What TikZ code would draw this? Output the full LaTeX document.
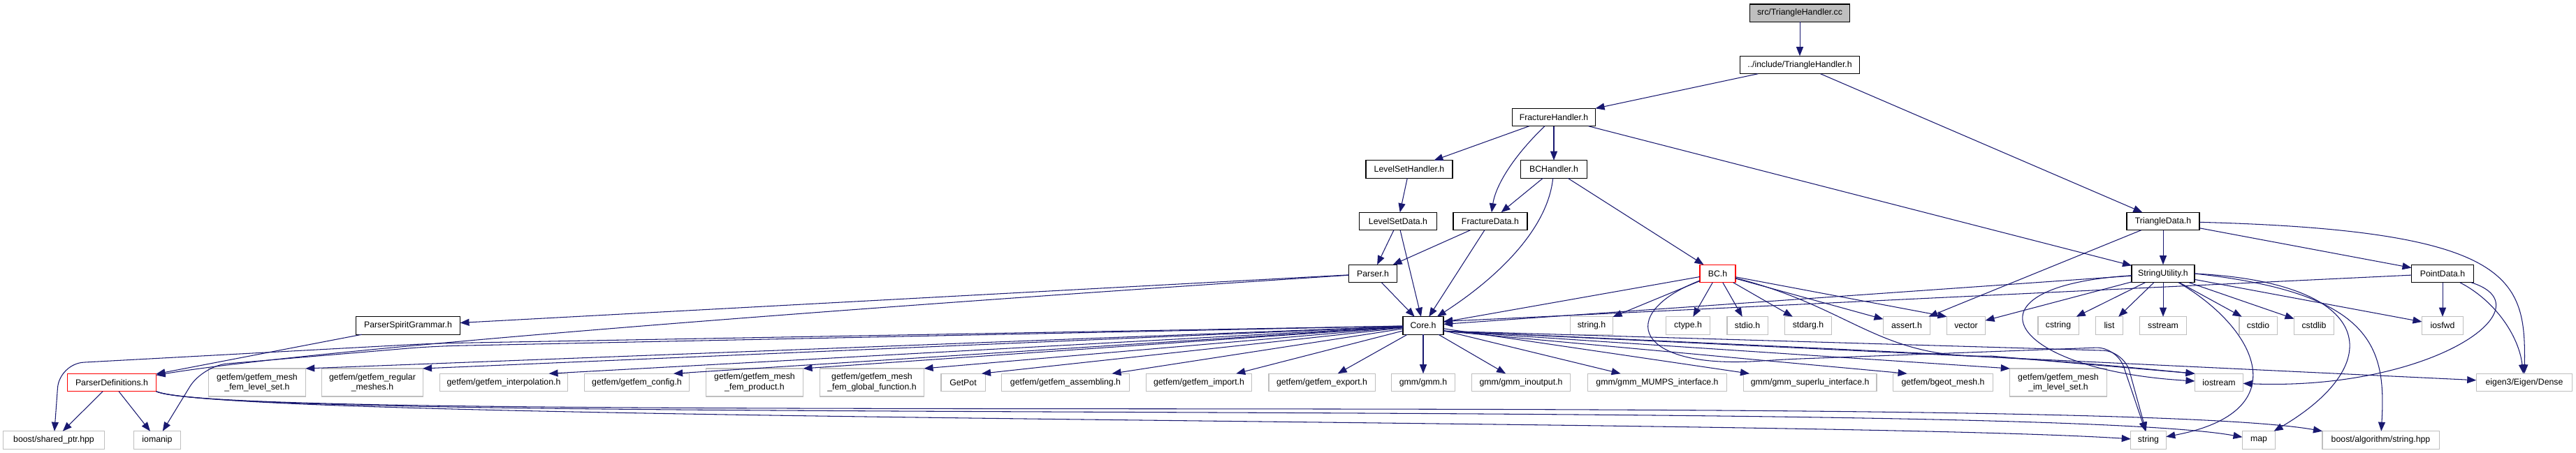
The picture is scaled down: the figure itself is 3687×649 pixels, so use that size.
\documentclass[tikz,border=0pt]{standalone}
\usepackage{fontspec}
\setmainfont{Liberation Sans}
\usetikzlibrary{arrows.meta}
\definecolor{depblue}{RGB}{25,25,112}
\definecolor{sysgray}{RGB}{191,191,191}
\definecolor{srcgray}{RGB}{191,191,191}
\tikzset{
  hdr/.style={draw=black, line width=0.4pt, fill=white, minimum height=0.255cm, inner sep=0pt, outer sep=0pt, align=center, font=\fontsize{3.5}{4.1}\selectfont},
  sys/.style={hdr, draw=sysgray, line width=0.3pt},
  trunc/.style={hdr, draw=red, line width=0.35pt},
  twoline/.style={minimum height=0.40cm},
  dep/.style={draw=depblue, line width=0.3pt, -{Triangle[length=1.3mm,width=1mm]}}
}
\begin{document}
\begin{tikzpicture}[x=0.01cm, y=-0.01cm]
	\useasboundingbox (0,0) rectangle (3687,649);
	
	\node[hdr, fill=srcgray, minimum width=1.43cm] (src) at (2576,18.7) {src/TriangleHandler.cc};
	\node[hdr, minimum width=1.71cm] (th) at (2576,93) {../include/TriangleHandler.h};
	\node[hdr, minimum width=1.19cm] (fh) at (2224,168) {FractureHandler.h};
	\node[hdr, minimum width=1.24cm] (lsh) at (2017,242.5) {LevelSetHandler.h};
	\node[hdr, minimum width=0.95cm] (bch) at (2224,242.5) {BCHandler.h};
	\node[hdr, minimum width=1.11cm] (lsd) at (2001,317) {LevelSetData.h};
	\node[hdr, minimum width=1.06cm] (fd) at (2133,317) {FractureData.h};
	\node[hdr, minimum width=1.04cm] (td) at (3096,317) {TriangleData.h};
	\node[hdr, minimum width=0.69cm] (parser) at (1965,392) {Parser.h};
	\node[trunc, minimum width=0.51cm] (bc) at (2458.5,392) {BC.h};
	\node[hdr, minimum width=0.90cm] (su) at (3096,392) {StringUtility.h};
	\node[hdr, minimum width=0.89cm] (pdat) at (3496,392) {PointData.h};
	
	\node[hdr, minimum width=1.49cm] (psg) at (584,466.5) {ParserSpiritGrammar.h};
	\node[hdr, minimum width=0.58cm] (core) at (2037,466.5) {Core.h};
	\node[sys, minimum width=0.61cm] (stringh) at (2278,466.5) {string.h};
	\node[sys, minimum width=0.63cm] (ctype) at (2416,466.5) {ctype.h};
	\node[sys, minimum width=0.58cm] (stdio) at (2501,466.5) {stdio.h};
	\node[sys, minimum width=0.67cm] (stdarg) at (2588,466.5) {stdarg.h};
	\node[sys, minimum width=0.67cm] (assert) at (2729,466.5) {assert.h};
	\node[sys, minimum width=0.55cm] (vector) at (2814,466.5) {vector};
	\node[sys, minimum width=0.58cm] (cstring) at (2946,466.5) {cstring};
	\node[sys, minimum width=0.39cm] (list) at (3019,466.5) {list};
	\node[sys, minimum width=0.67cm] (sstream) at (3096,466.5) {sstream};
	\node[sys, minimum width=0.54cm] (cstdio) at (3232,466.5) {cstdio};
	\node[sys, minimum width=0.57cm] (cstdlib) at (3312,466.5) {cstdlib};
	\node[sys, minimum width=0.59cm] (iosfwd) at (3496,466.5) {iosfwd};
	
	\node[trunc, minimum width=1.27cm] (pdef) at (160,548) {ParserDefinitions.h};
	\node[sys, twoline, minimum width=1.385cm] (mflset) at (368,548) {getfem/getfem\_mesh\\\_fem\_level\_set.h};
	\node[sys, twoline, minimum width=1.44cm] (regmesh) at (533,548) {getfem/getfem\_regular\\\_meshes.h};
	\node[sys, minimum width=1.83cm] (interp) at (721,548) {getfem/getfem\_interpolation.h};
	\node[sys, minimum width=1.49cm] (config) at (911.5,548) {getfem/getfem\_config.h};
	\node[sys, twoline, minimum width=1.39cm] (mfprod) at (1080,548) {getfem/getfem\_mesh\\\_fem\_product.h};
	\node[sys, twoline, minimum width=1.49cm] (mfglob) at (1248,548) {getfem/getfem\_mesh\\\_fem\_global\_function.h};
	\node[sys, minimum width=0.63cm] (getpot) at (1378.5,548) {GetPot};
	\node[sys, minimum width=1.83cm] (assem) at (1525,548) {getfem/getfem\_assembling.h};
	\node[sys, minimum width=1.505cm] (import) at (1716,548) {getfem/getfem\_import.h};
	\node[sys, minimum width=1.52cm] (export) at (1892,548) {getfem/getfem\_export.h};
	\node[sys, minimum width=0.905cm] (gmm) at (2037,548) {gmm/gmm.h};
	\node[sys, minimum width=1.41cm] (inout) at (2177,548) {gmm/gmm\_inoutput.h};
	\node[sys, minimum width=1.985cm] (mumps) at (2372,548) {gmm/gmm\_MUMPS\_interface.h};
	\node[sys, minimum width=1.906cm] (superlu) at (2590.6,548) {gmm/gmm\_superlu\_interface.h};
	\node[sys, minimum width=1.427cm] (bgeot) at (2781,548) {getfem/bgeot\_mesh.h};
	\node[sys, twoline, minimum width=1.384cm] (mimls) at (2946,548) {getfem/getfem\_mesh\\\_im\_level\_set.h};
	\node[sys, minimum width=0.69cm] (iostream) at (3176,548) {iostream};
	\node[sys, minimum width=1.375cm] (eigen) at (3613,548) {eigen3/Eigen/Dense};
	
	\node[sys, minimum width=1.45cm] (bsp) at (77,630.5) {boost/shared\_ptr.hpp};
	\node[sys, minimum width=0.67cm] (iomanip) at (225,630.5) {iomanip};
	\node[sys, minimum width=0.505cm] (string) at (3075,630.5) {string};
	\node[sys, minimum width=0.47cm] (map) at (3233,630.5) {map};
	\node[sys, minimum width=1.67cm] (balg) at (3407.5,630.5) {boost/algorithm/string.hpp};
	
	\draw[dep] (src) -- (th);
	\draw[dep] (th) -- (fh);
	\draw[dep] (th) -- (td);
	\draw[dep] (fh) -- (lsh);
	\draw[dep] (fh) .. controls (2160,230) and (2140,270) .. (fd);
	\draw[dep] (fh) -- (bch);
	\draw[dep] (fh) -- (su);
	\draw[dep] (lsh) -- (lsd);
	\draw[dep] (bch) -- (fd);
	\draw[dep] (bch) .. controls (2215,330) and (2140,400) .. (core);
	\draw[dep] (bch) -- (bc);
	\draw[dep] (lsd) -- (parser);
	\draw[dep] (lsd) -- (core);
	\draw[dep] (fd) -- (parser);
	\draw[dep] (fd) -- (core);
	\draw[dep] (parser) -- (core);
	\draw[dep] (parser) -- (psg);
	\draw[dep] (parser) .. controls (1200,442) and (450,500) .. (pdef);
	\draw[dep] (psg) -- (pdef);
	
	\draw[dep] (pdef) -- (bsp);
	\draw[dep] (pdef) -- (iomanip);
	\draw[dep] (pdef.south east) .. controls (330,605) and (2600,600) .. (string);
	\draw[dep] (pdef.south east) .. controls (330,610) and (2900,570) .. (map);
	\draw[dep] (pdef.south east) .. controls (330,610) and (3000,560) .. (balg.north west);
	
	\draw[dep, rounded corners=0.35cm] (core) -- (620,492) -- (85,521) -- (bsp);
	\draw[dep, rounded corners=0.35cm] (core) -- (620,496) -- (290,524) -- (iomanip);
	\draw[dep] (core) -- (mflset.north east);
	\draw[dep] (core) -- (regmesh.north east);
	\draw[dep] (core) -- ([xshift=-0.27cm]interp.north east);
	\draw[dep] (core) -- ([xshift=-0.22cm]config.north east);
	\draw[dep] (core) -- (mfprod.north east);
	\draw[dep] (core) -- (mfglob.north east);
	\draw[dep] (core) -- ([xshift=-0.05cm]getpot.north east);
	\draw[dep] (core) -- ([xshift=-0.25cm]assem.north east);
	\draw[dep] (core) -- ([xshift=-0.22cm]import.north east);
	\draw[dep] (core) -- (export);
	\draw[dep] (core) -- (gmm);
	\draw[dep] (core) -- (inout);
	\draw[dep] (core) -- (mumps);
	\draw[dep] (core) -- (superlu);
	\draw[dep] (core.-15) -- ([xshift=0.2cm]bgeot.north west);
	\draw[dep] (core.-15) -- (mimls.north west);
	\draw[dep] (core.-15) .. controls (2900,512) .. (iostream.north west);
	\draw[dep] (core.-15) -- (eigen);
	\draw[dep, rounded corners=0.3cm] (core.-15) -- (3040,503) -- (string);
	
	\draw[dep] (bc) -- (core);
	\draw[dep] (bc) -- (stringh);
	\draw[dep] (bc) -- (ctype);
	\draw[dep] (bc) -- (stdio);
	\draw[dep] (bc) -- (stdarg);
	\draw[dep] (bc) -- (assert);
	\draw[dep] (bc) -- (vector.north west);
	\draw[dep] (bc) .. controls (2650,440) and (2690,515) .. (2850,510) -- (iostream.north west);
	\draw[dep, rounded corners=0.3cm] (bc) .. controls (2310,450) and (2340,530) .. (2550,515) -- (3030,497) -- (string);
	
	\draw[dep] (td) -- (su);
	\draw[dep] (td) -- (pdat);
	\draw[dep] (td) .. controls (3600,330) and (3615,400) .. (eigen);
	\draw[dep] (td) -- (assert);
	
	\draw[dep] (su) -- (core);
	\draw[dep] (su) -- (cstring);
	\draw[dep] (su) -- (vector);
	\draw[dep] (su) -- (list);
	\draw[dep] (su) -- (sstream);
	\draw[dep] (su) -- (cstdio);
	\draw[dep] (su) -- (cstdlib);
	\draw[dep] (su) -- (iosfwd);
	\draw[dep] (su) .. controls (2800,410) and (2870,530) .. (iostream);
	\draw[dep] (su) .. controls (3230,470) and (3290,590) .. (string);
	\draw[dep] (su.east) .. controls (3400,405) and (3420,520) .. (map);
	\draw[dep] (su.east) .. controls (3400,420) and (3415,500) .. (balg);
	
	\draw[dep] (pdat) -- ([yshift=0.06cm]core.east);
	\draw[dep] (pdat) -- (iosfwd);
	\draw[dep] (pdat) .. controls (3650,440) and (3480,560) .. (iostream);
	\draw[dep] (pdat) .. controls (3570,430) and (3605,480) .. (eigen);
\end{tikzpicture}
\end{document}
